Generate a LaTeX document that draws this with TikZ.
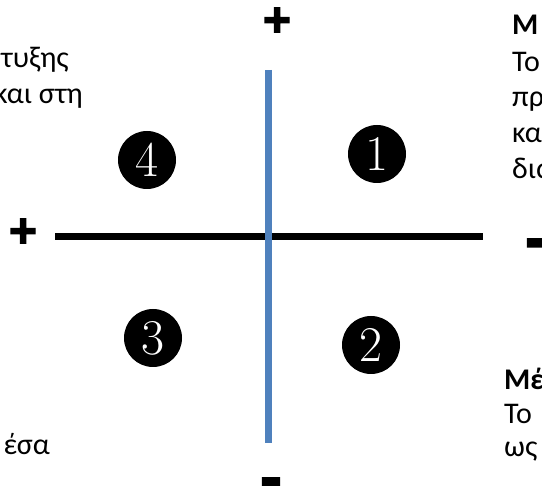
\documentclass[tikz,border=0pt]{standalone}
\usepackage{fontspec}
\setmainfont{Carlito}
\newfontfamily\signfont[FakeBold=2.5]{Liberation Sans}
\usepackage{xcolor}
\definecolor{axisblue}{HTML}{4F81BD}
\begin{document}
\begin{tikzpicture}[x=1pt,y=-1pt,
  txt/.style={inner sep=0pt,font=\fontsize{30}{36}\selectfont},
  head/.style={txt,font=\fontsize{30}{36}\selectfont\bfseries},
  sign/.style={inner sep=0pt,text height=18pt,text depth=0pt,anchor=base,font=\signfont\bfseries\fontsize{48}{48}\selectfont},
  minus/.style={inner sep=0pt,text height=18pt,text depth=0pt,anchor=base,font=\signfont\bfseries\fontsize{66}{66}\selectfont},
  quad/.style={circle,fill=black,minimum size=58pt,inner sep=0pt,text=white,
    font=\rmfamily\fontspec{Latin Modern Roman}\fontsize{50}{50}\selectfont}]
\useasboundingbox (0,0) rectangle (542,486);
\clip (0,0) rectangle (542,486);
% axes
\coordinate (hl) at (55,237);
\coordinate (hr) at (483,237);
\coordinate (vt) at (268,70);
\coordinate (vb) at (268,443);
\draw[line width=7pt] (hl) -- (hr);
\draw[axisblue,line width=7pt] (vt) -- (vb);
% signs
\node[sign] (ptop) at (277,36) {+};
\node[sign] (pleft) at (23,247) {+};
\node[minus] (mright) at (536,260) {-};
\node[minus] (mbot) at (271,499) {-};
% quadrant numbers
\node[quad] (q4) at (147,160) {4};
\node[quad] (q1) at (377,154) {1};
\node[quad] (q3) at (153,338) {3};
\node[quad] (q2) at (371,345) {2};
% left texts (cut off)
\node[txt,anchor=base east] (l1) at (69,68) {τυξης};
\node[txt,anchor=base east] (l2) at (83,104) {και στη};
\node[txt,anchor=base east] (l3) at (50,455) {έσα};
% right top text (cut off)
\node[head,anchor=base west] (r1) at (512,35) {Μ};
\node[txt,anchor=base west] (r2) at (512,72) {Το};
\node[txt,anchor=base west] (r3) at (512,107) {πρ};
\node[txt,anchor=base west] (r4) at (512,143) {κα};
\node[txt,anchor=base west] (r5) at (512,179) {δια};
% right bottom text (cut off)
\node[head,anchor=base west] (s1) at (504,390) {Μέ};
\node[txt,anchor=base west] (s2) at (504,424) {Το};
\node[txt,anchor=base west] (s3) at (504,457) {ως};
\end{tikzpicture}
\end{document}
